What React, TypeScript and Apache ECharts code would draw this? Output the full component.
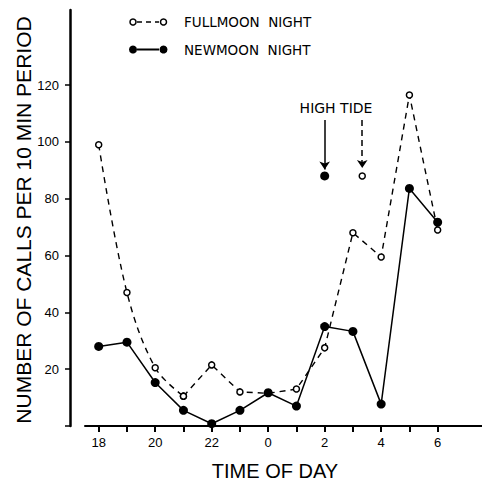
import React, { useEffect, useRef } from "react";
import * as echarts from "echarts";

// Time of day (hours); x position = index
const hours = [18, 19, 20, 21, 22, 23, 0, 1, 2, 3, 4, 5, 6];
const fullmoon = [99, 47, 20.5, 10.5, 21.5, 12, 11.5, 13, 27.5, 68, 59.5, 116.5, 69];
const newmoon = [28, 29.5, 15.3, 5.5, 0.8, 5.5, 11.7, 7, 35, 33.3, 7.7, 83.6, 71.7];
// high tide markers: [x index, value]
const highTideNew = [[8, 88]];
const highTideFull = [[9.33, 88]];
const yTicks = [0, 20, 40, 60, 80, 100, 120];
const yLabels = [20, 40, 60, 80, 100, 120];
const xTicks = [0, 1, 2, 3, 4, 5, 6, 7, 8, 9, 10, 11, 12];
const xLabels = [0, 2, 4, 6, 8, 10, 12];

const LIB = "'Liberation Sans', Arial, sans-serif";
const SANS = "'DejaVu Sans', 'Liberation Sans', sans-serif";

export default function App() {
  const ref = useRef<HTMLDivElement>(null);
  useEffect(() => {
    if (!ref.current) return;
    const chart = echarts.init(ref.current, null, { renderer: "svg" });
    const Y_MAX = 146.4;
    const smoothPart = fullmoon.slice(0, 4).map((v, i) => [i, v]);
    const straightPart = fullmoon.slice(3).map((v, i) => [i + 3, v]);
    const newPts = newmoon.map((v, i) => [i, v]);
    const dash = [6, 5];
    const openItem = { color: "#fff", borderColor: "#000", borderWidth: 1.5, opacity: 1 };
    chart.setOption({
      animation: false,
      backgroundColor: "#fff",
      grid: [
        { left: 70, top: 10, bottom: 57, width: 1 },
        { left: 85, top: 10, bottom: 57, right: 0 },
      ],
      xAxis: [
        { gridIndex: 0, type: "value", show: false, min: 0, max: 1 },
        {
          gridIndex: 1,
          type: "value",
          min: -0.485,
          max: 13.57,
          splitLine: { show: false },
          axisLine: { show: true, lineStyle: { color: "#000", width: 2 } },
          axisTick: { show: true, inside: false, length: 6, customValues: xTicks, lineStyle: { color: "#000", width: 2 } },
          axisLabel: {
            customValues: xLabels,
            margin: 10,
            color: "#000",
            fontSize: 13,
            fontFamily: LIB,
            formatter: (v: number) => String(hours[Math.round(v)]),
          },
        },
      ],
      yAxis: [
        {
          gridIndex: 0,
          type: "value",
          min: 0,
          max: Y_MAX,
          splitLine: { show: false },
          axisLine: { show: true, lineStyle: { color: "#000", width: 2.5 } },
          axisTick: { show: true, length: 5, customValues: yTicks, lineStyle: { color: "#000", width: 1.5 } },
          axisLabel: {
            customValues: yLabels,
            margin: 11,
            color: "#000",
            fontSize: 13,
            fontFamily: LIB,
          },
        },
        { gridIndex: 1, type: "value", min: 0, max: Y_MAX, show: false },
      ],
      series: [
        {
          type: "line",
          xAxisIndex: 1,
          yAxisIndex: 1,
          data: smoothPart,
          smooth: 0.35,
          symbol: "circle",
          symbolSize: 6,
          showAllSymbol: true,
          lineStyle: { color: "#000", width: 1.4, type: dash },
          itemStyle: openItem,
          z: 2,
        },
        {
          type: "line",
          xAxisIndex: 1,
          yAxisIndex: 1,
          data: straightPart,
          symbol: "circle",
          symbolSize: 6,
          showAllSymbol: true,
          lineStyle: { color: "#000", width: 1.4, type: dash },
          itemStyle: openItem,
          z: 2,
        },
        {
          type: "line",
          xAxisIndex: 1,
          yAxisIndex: 1,
          data: newPts,
          symbol: "circle",
          symbolSize: 9,
          showAllSymbol: true,
          lineStyle: { color: "#000", width: 1.5 },
          itemStyle: { color: "#000" },
          z: 3,
        },
        {
          type: "scatter",
          xAxisIndex: 1,
          yAxisIndex: 1,
          data: highTideNew,
          symbol: "circle",
          symbolSize: 9,
          itemStyle: { color: "#000", opacity: 1 },
          markLine: {
            silent: true,
            symbol: ["none", "arrow"],
            symbolSize: 8,
            label: { show: false },
            lineStyle: { color: "#000", type: "solid", width: 1.5 },
            data: [[{ coord: [8, 107.7] }, { coord: [8, 90.3] }]],
          },
        },
        {
          type: "scatter",
          xAxisIndex: 1,
          yAxisIndex: 1,
          data: highTideFull,
          symbol: "circle",
          symbolSize: 6,
          itemStyle: openItem,
          markLine: {
            silent: true,
            symbol: ["none", "arrow"],
            symbolSize: 8,
            label: { show: false },
            lineStyle: { color: "#000", type: [6, 4], width: 1.5 },
            data: [[{ coord: [9.33, 107.7] }, { coord: [9.33, 90.8] }]],
          },
        },
      ],
      graphic: [
        // y axis title
        {
          type: "text",
          x: 23,
          y: 220,
          rotation: Math.PI / 2,
          style: {
            text: "NUMBER OF CALLS PER 10 MIN PERIOD",
            fontSize: 21,
            fontFamily: LIB,
            fill: "#000",
            align: "center",
            verticalAlign: "middle",
          },
        },
        // x axis title
        {
          type: "text",
          x: 275,
          y: 471,
          style: {
            text: "TIME OF DAY",
            fontSize: 20,
            fontFamily: LIB,
            fill: "#000",
            align: "center",
            verticalAlign: "middle",
          },
        },
        // high tide label
        {
          type: "text",
          x: 336,
          y: 108,
          style: {
            text: "HIGH TIDE",
            fontSize: 14,
            fontFamily: SANS,
            fill: "#000",
            align: "center",
            verticalAlign: "middle",
          },
        },
        // legend: fullmoon
        { type: "line", shape: { x1: 137, y1: 22, x2: 159, y2: 22 }, style: { stroke: "#000", lineWidth: 1.5, lineDash: [5, 4] } },
        { type: "circle", shape: { cx: 133, cy: 22, r: 3 }, style: { fill: "#fff", stroke: "#000", lineWidth: 1.5 } },
        { type: "circle", shape: { cx: 163.5, cy: 22, r: 3 }, style: { fill: "#fff", stroke: "#000", lineWidth: 1.5 } },
        {
          type: "text",
          x: 184,
          y: 22,
          style: { text: "FULLMOON  NIGHT", fontSize: 13.5, fontFamily: SANS, fill: "#000", verticalAlign: "middle" },
        },
        // legend: newmoon
        { type: "line", shape: { x1: 137, y1: 49.5, x2: 159, y2: 49.5 }, style: { stroke: "#000", lineWidth: 2 } },
        { type: "circle", shape: { cx: 133, cy: 49.5, r: 4 }, style: { fill: "#000" } },
        { type: "circle", shape: { cx: 163.5, cy: 49.5, r: 4 }, style: { fill: "#000" } },
        {
          type: "text",
          x: 184,
          y: 49.5,
          style: { text: "NEWMOON  NIGHT", fontSize: 13.5, fontFamily: SANS, fill: "#000", verticalAlign: "middle" },
        },
      ],
    });
    return () => chart.dispose();
  }, []);
  return (
    <div
      ref={ref}
      style={{ position: "absolute", left: 0, top: 0, width: 482, height: 483, background: "#fff" }}
    />
  );
}
